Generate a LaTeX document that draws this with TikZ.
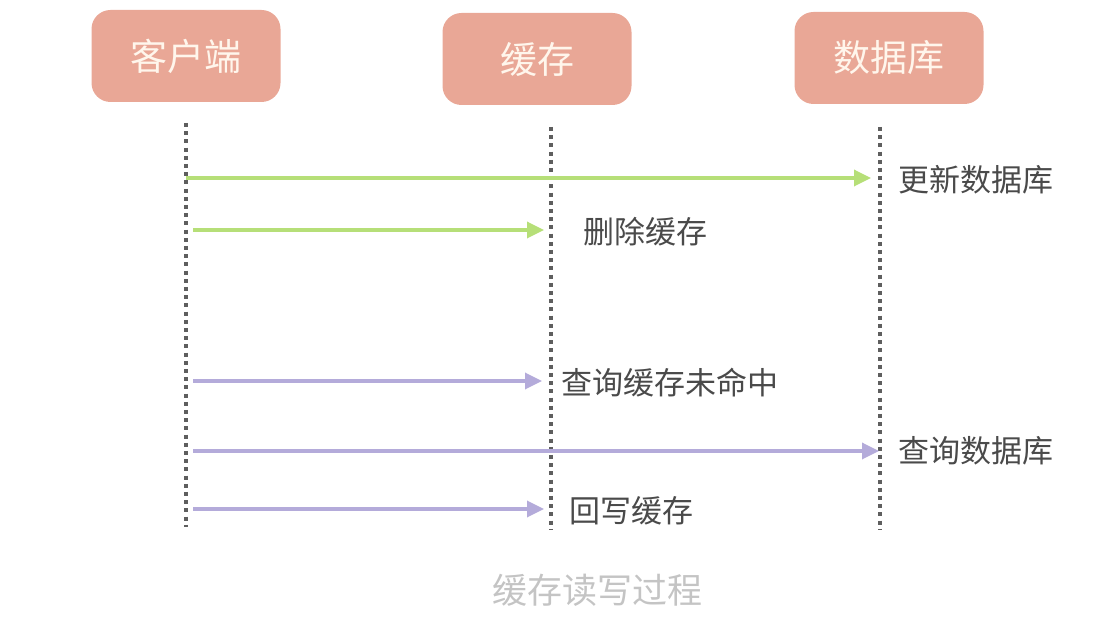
\documentclass[tikz,border=0pt]{standalone}
\usepackage{fontspec}
\setmainfont{Noto Sans CJK SC}
\usetikzlibrary{arrows.meta,positioning,calc}
\definecolor{boxsalmon}{HTML}{E9A796}
\definecolor{boxtext}{HTML}{FFF6EC}
\definecolor{lifegray}{HTML}{5E5E5E}
\definecolor{msggreen}{HTML}{B6DF78}
\definecolor{msgpurple}{HTML}{B4ABDA}
\definecolor{labelgray}{HTML}{4A4A4A}
\definecolor{capgray}{HTML}{C4C4C4}
\tikzset{
  actor/.style={fill=boxsalmon, rounded corners=19pt, minimum width=189pt,
    minimum height=92pt, inner sep=0pt, text=boxtext,
    font=\fontsize{37}{39}\selectfont},
  lifeline/.style={draw=lifegray, line width=3.4pt, dash pattern=on 4pt off 4.2pt},
  writemsg/.style={-{Triangle[length=17pt,width=16pt]}, draw=msggreen,
    line width=3.4pt, shorten >=1pt},
  readmsg/.style={-{Triangle[length=17pt,width=16pt]}, draw=msgpurple,
    line width=3.4pt, shorten >=1pt},
  msglabel/.style={anchor=west, inner sep=0pt, text=labelgray,
    font=\fontsize{31}{33}\selectfont},
  caption/.style={text=capgray, font=\fontsize{35}{37}\selectfont},
}
\begin{document}
\begin{tikzpicture}[x=1pt,y=-1pt]
  \useasboundingbox (0,0) rectangle (1093,617);
  % actors
  \node[actor] (client) at (186,56) {客户端};
  \node[actor] (cache) at (537,59) {缓存};
  \node[actor] (db) at (889,58) {数据库};
  % lifelines
  \coordinate (clientT) at (186,123);
  \coordinate (clientB) at (186,527);
  \coordinate (cacheT) at (551,127);
  \coordinate (cacheB) at (551,529);
  \coordinate (dbT) at (880,127);
  \coordinate (dbB) at (880,529);
  \draw[lifeline] (clientT) -- (clientB);
  \draw[lifeline] (cacheT) -- (cacheB);
  \draw[lifeline] (dbT) -- (dbB);
  % write path
  \coordinate (w1a) at (186,178);  \coordinate (w1b) at (872,178);
  \coordinate (w2a) at (193,230);  \coordinate (w2b) at (545,230);
  \draw[writemsg] (w1a) -- (w1b);
  \draw[writemsg] (w2a) -- (w2b);
  \node[msglabel] (updb) at (898,180) {更新数据库};
  \node[msglabel] (delc) at (583,232) {删除缓存};
  % read path
  \coordinate (r1a) at (193,381);  \coordinate (r1b) at (543,381);
  \coordinate (r2a) at (193,451);  \coordinate (r2b) at (880,451);
  \coordinate (r3a) at (193,509);  \coordinate (r3b) at (545,509);
  \draw[readmsg] (r1a) -- (r1b);
  \draw[readmsg] (r2a) -- (r2b);
  \draw[readmsg] (r3a) -- (r3b);
  \node[msglabel] (miss) at (561,383) {查询缓存未命中};
  \node[msglabel] (qdb) at (898,451) {查询数据库};
  \node[msglabel] (back) at (569,511) {回写缓存};
  \node[caption] (cap) at (597,590) {缓存读写过程};
\end{tikzpicture}
\end{document}
